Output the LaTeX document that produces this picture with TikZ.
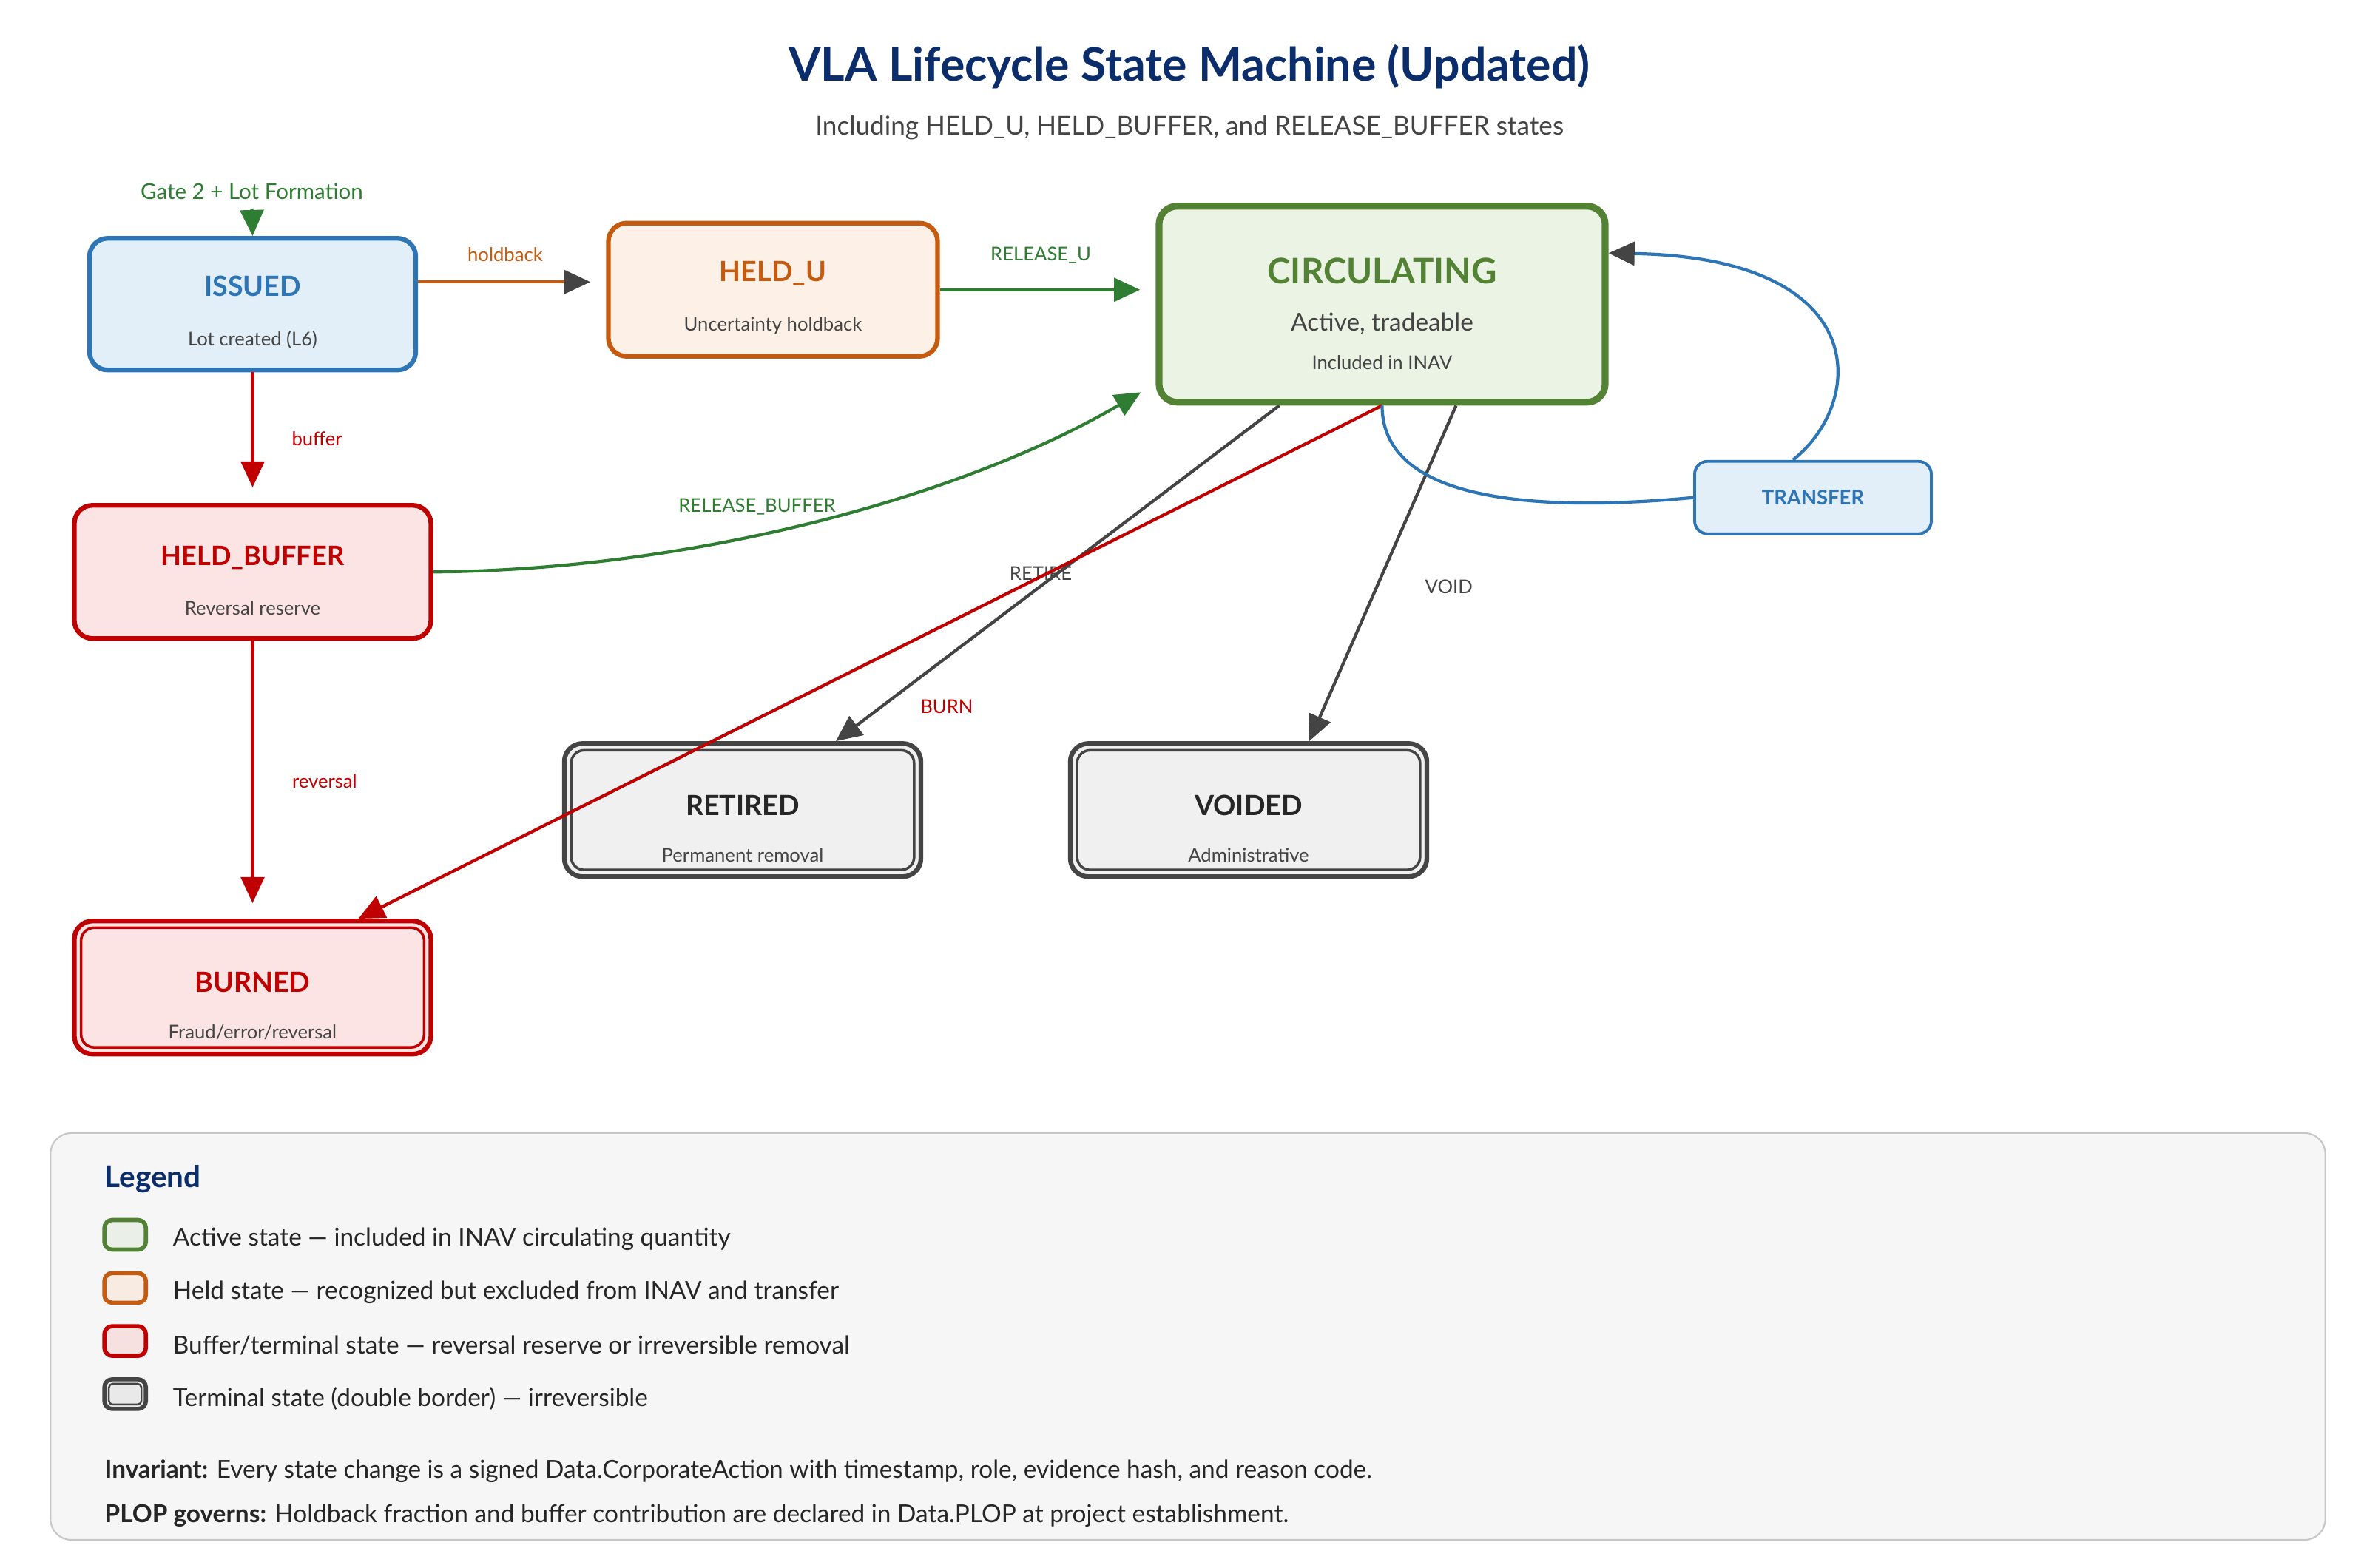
\documentclass[tikz,border=0pt]{standalone}
\usepackage{fontspec}
\setmainfont{Lato}
\usepackage{tikz}
\usetikzlibrary{arrows.meta, positioning, calc}
\definecolor{title-blue}{HTML}{0B2D6B}
\definecolor{st-blue}{HTML}{2E75B6}
\definecolor{st-bluefill}{HTML}{E2EEF8}
\definecolor{st-orange}{HTML}{C55A11}
\definecolor{st-orangefill}{HTML}{FDF0E6}
\definecolor{st-green}{HTML}{548235}
\definecolor{st-greenfill}{HTML}{EBF3E5}
\definecolor{edge-green}{HTML}{2E7D32}
\definecolor{st-red}{HTML}{C00000}
\definecolor{st-redfill}{HTML}{FCE4E4}
\definecolor{st-gray}{HTML}{444444}
\definecolor{st-grayfill}{HTML}{F0F0F0}
\definecolor{txt-gray}{HTML}{444444}

\begin{document}
\begin{tikzpicture}[x=0.02051cm, y=-0.02051cm,
  box/.style={draw, rounded corners=7pt, line width=1.8pt, align=center, inner sep=0pt},
  big/.style={box, minimum width=4.82cm, minimum height=1.80cm},
  inner/.style={rounded corners=5pt, line width=1pt},
  elabel/.style={font=\fontsize{7.3}{9}\selectfont},
  tip/.style={-{Triangle[length=10pt, width=9pt]}},
  conn/.style={line width=1.2pt}]
\useasboundingbox (0,0) rectangle (1560.2,1033.6);

% title
\node[font=\bfseries\fontsize{17.8}{21}\selectfont, text=title-blue] (title) at (784,44) {VLA Lifecycle State Machine (Updated)};
\node[font=\fontsize{10}{12}\selectfont, text=txt-gray] (subtitle) at (784,84) {Including HELD\_U, HELD\_BUFFER, and RELEASE\_BUFFER states};

% states
\node[box, draw=st-blue, fill=st-bluefill, minimum width=4.41cm, minimum height=1.78cm] (issued) at (166.5,200.5)
  {\rule{0pt}{14pt}{\bfseries\fontsize{10.7}{12}\selectfont\color{st-blue}ISSUED}\\[7pt]{\fontsize{7.3}{9}\selectfont\color{txt-gray}Lot created (L6)}};
\node[box, draw=st-orange, fill=st-orangefill, minimum width=4.45cm, minimum height=1.80cm] (heldu) at (509.5,191)
  {\rule{0pt}{14pt}{\bfseries\fontsize{10.7}{12}\selectfont\color{st-orange}HELD\_U}\\[7pt]{\fontsize{7.3}{9}\selectfont\color{txt-gray}Uncertainty holdback}};
\node[box, draw=st-green, fill=st-greenfill, line width=2.6pt, minimum width=6.03cm, minimum height=2.65cm] (circ) at (911,200.5)
  {\rule{0pt}{17.5pt}{\bfseries\fontsize{13.5}{15}\selectfont\color{st-green}CIRCULATING}\\[6pt]{\fontsize{9.5}{11}\selectfont\color{txt-gray}Active, tradeable}\\[3pt]{\fontsize{7.3}{9}\selectfont\color{txt-gray}Included in INAV}};
\node[big, draw=st-red, fill=st-redfill] (hbuf) at (166.5,377)
  {\rule{0pt}{14pt}{\bfseries\fontsize{10.3}{12}\selectfont\color{st-red}HELD\_BUFFER}\\[7pt]{\fontsize{7.3}{9}\selectfont\color{txt-gray}Reversal reserve}};
\node[big, draw=st-red, fill=st-redfill] (burned) at (166.5,651)
  {\rule{0pt}{22pt}{\bfseries\fontsize{10.7}{12}\selectfont\color{st-red}BURNED}\\[6pt]{\fontsize{7.3}{9}\selectfont\color{txt-gray}Fraud/error/reversal}};
\node[big, draw=st-gray, fill=st-grayfill] (retired) at (489.5,534)
  {\rule{0pt}{22pt}{\bfseries\fontsize{10.7}{12}\selectfont\color{black!85}RETIRED}\\[6pt]{\fontsize{7.3}{9}\selectfont\color{txt-gray}Permanent removal}};
\node[big, draw=st-gray, fill=st-grayfill] (voided) at (823,534)
  {\rule{0pt}{22pt}{\bfseries\fontsize{10.7}{12}\selectfont\color{black!85}VOIDED}\\[6pt]{\fontsize{7.3}{9}\selectfont\color{txt-gray}Administrative}};
\node[box, draw=st-blue, fill=st-bluefill, line width=1.1pt, rounded corners=5pt, minimum width=3.20cm, minimum height=0.98cm,
  font=\bfseries\fontsize{7.8}{9}\selectfont, text=st-blue, text depth=-7.5pt] (transfer) at (1195,328) {TRANSFER};

% inner borders of terminal states
\draw[inner, st-red] ([shift={(3.5pt,-3.5pt)}]burned.north west) rectangle ([shift={(-3.5pt,3.5pt)}]burned.south east);
\draw[inner, st-gray] ([shift={(3.5pt,-3.5pt)}]retired.north west) rectangle ([shift={(-3.5pt,3.5pt)}]retired.south east);
\draw[inner, st-gray] ([shift={(3.5pt,-3.5pt)}]voided.north west) rectangle ([shift={(-3.5pt,3.5pt)}]voided.south east);

% transitions
\node[text=edge-green, font=\fontsize{8.4}{10}\selectfont] (gate) at (166,126) {Gate 2 + Lot Formation};
\draw[conn, tip, edge-green] (gate.south) -- (issued.north);
\draw[conn, st-orange, -{Triangle[length=10pt, width=9pt, color=st-gray]}, shorten >=6pt]
  ([yshift=0.3cm]issued.east) -- ([yshift=0.3cm]issued.east -| heldu.west);
\node[elabel, text=st-orange] (l-hold) at (333,168) {holdback};
\draw[conn, tip, edge-green, shorten >=6pt] (heldu.east) -- (heldu.east -| circ.west);
\node[elabel, text=edge-green] (l-relu) at (686,168) {RELEASE\_U};
\draw[conn, tip, st-red, shorten >=6pt] (issued.south) -- (hbuf.north);
\node[elabel, text=st-red] (l-buf) at (209,289) {buffer};
\draw[conn, tip, st-red, shorten >=6pt] (hbuf.south) -- (burned.north);
\node[elabel, text=st-red] (l-rev) at (214,515) {reversal};
\draw[conn, tip, edge-green] (hbuf.east) .. controls (450,376) and (630,330) .. ([shift={(-0.2cm,0.18cm)}]circ.south west);
\node[elabel, text=edge-green] (l-relb) at (499,334) {RELEASE\_BUFFER};
\draw[conn, tip, st-gray] ([xshift=-1.39cm]circ.south) -- ([xshift=1.26cm]retired.north);
\node[elabel, text=txt-gray] (l-ret) at (686,378) {RETIRE};
\draw[conn, tip, st-red] (circ.south) -- ([xshift=1.43cm]burned.north);
\node[elabel, text=st-red] (l-burn) at (624,466) {BURN};
\draw[conn, tip, st-gray] ([xshift=1.0cm]circ.south) -- ([xshift=0.82cm]voided.north);
\node[elabel, text=txt-gray] (l-void) at (955,387) {VOID};
\draw[conn, st-blue] (circ.south) .. controls (911,330) and (1010,338) .. (transfer.west);
\draw[conn, st-blue, -{Triangle[length=10pt, width=9pt, color=st-gray]}]
  ([xshift=-0.27cm]transfer.north) .. controls (1230,265) and (1235,170) .. ([yshift=0.69cm]circ.east);

% legend
\node[draw=black!22, fill=black!3.5, rounded corners=8pt, line width=0.6pt, minimum width=30.75cm, minimum height=5.5cm] (legend) at (783,881) {};
\node[anchor=west, font=\bfseries\fontsize{11.5}{13}\selectfont, text=title-blue] (leghead) at (63,777) {Legend};
\foreach \y/\c/\t [count=\i] in {817/st-green/{Active state — included in INAV circulating quantity},
    852/st-orange/{Held state — recognized but excluded from INAV and transfer},
    887/st-red/{Buffer/terminal state — reversal reserve or irreversible removal},
    922/st-gray/{Terminal state (double border) — irreversible}} {
  \node[draw=\c, fill=\c!12, line width=1.6pt, rounded corners=3pt, minimum width=0.56cm, minimum height=0.40cm] (sw\i) at (82.5,\y-3) {};
  \node[anchor=west, font=\fontsize{9.5}{11}\selectfont, text=black!85] (leg\i) at (108,\y) {\t};
}
\draw[st-gray, line width=0.7pt, rounded corners=1.5pt] ([shift={(2.5pt,-2.5pt)}]sw4.north west) rectangle ([shift={(-2.5pt,2.5pt)}]sw4.south east);
\node[anchor=west, font=\fontsize{9.5}{11}\selectfont, text=black!85] (inv) at (63,970) {\textbf{Invariant:} Every state change is a signed Data.CorporateAction with timestamp, role, evidence hash, and reason code.};
\node[anchor=west, font=\fontsize{9.5}{11}\selectfont, text=black!85] (plop) at (63,999) {\textbf{PLOP governs:} Holdback fraction and buffer contribution are declared in Data.PLOP at project establishment.};
\end{tikzpicture}
\end{document}
